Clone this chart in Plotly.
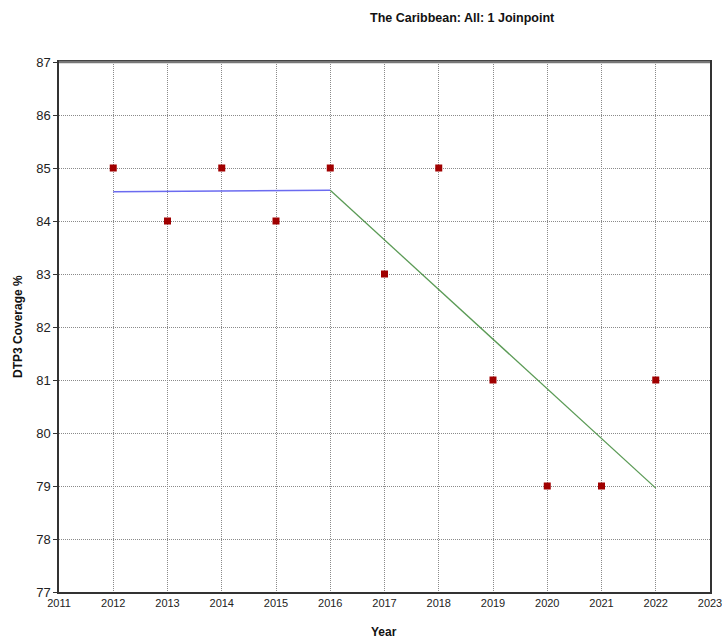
import plotly.graph_objects as go

# Observed DTP3 coverage by year
years = [2012, 2013, 2014, 2015, 2016, 2017, 2018, 2019, 2020, 2021, 2022]
coverage = [85, 84, 85, 84, 85, 83, 85, 81, 79, 79, 81]

# Joinpoint model: two segments joined at 2016
seg1_years = [2012, 2016]
seg1_fit = [84.55, 84.58]
seg2_years = [2016, 2022]
seg2_fit = [84.58, 78.96]

x_ticks = list(range(2011, 2024))
y_ticks = list(range(77, 88))

W, H = 722, 638
ML, MR, MT, MB = 59, 12, 62, 46
PW, PH = W - ML - MR, H - MT - MB


def px_x(px):
    return (px - ML) / PW


def px_y(py):
    return (H - MB - py) / PH


font_main = "Liberation Sans, Arial, sans-serif"

fig = go.Figure()
fig.add_trace(go.Scatter(x=seg1_years, y=seg1_fit, mode="lines",
                         line=dict(color="#6b6bf0", width=1.5), showlegend=False))
fig.add_trace(go.Scatter(x=seg2_years, y=seg2_fit, mode="lines",
                         line=dict(color="#5a9a55", width=1.3), showlegend=False))
fig.add_trace(go.Scatter(x=years, y=coverage, mode="markers",
                         marker=dict(symbol="square", size=7, color="#a00000",
                                     line=dict(width=0)),
                         showlegend=False))

fig.update_layout(
    width=W, height=H,
    margin=dict(l=ML, r=MR, t=MT, b=MB),
    paper_bgcolor="white", plot_bgcolor="white",
    font=dict(family=font_main, size=12, color="#222"),
    annotations=[
        dict(text="<b>The Caribbean: All: 1 Joinpoint</b>", x=px_x(462), y=px_y(18),
             xref="paper", yref="paper", showarrow=False,
             xanchor="center", yanchor="middle",
             font=dict(size=12.5, color="#111")),
        dict(text="<b>Year</b>", x=px_x(384), y=px_y(632),
             xref="paper", yref="paper", showarrow=False,
             xanchor="center", yanchor="middle",
             font=dict(size=12, color="#111")),
        dict(text="<b>DTP3 Coverage %</b>", x=px_x(18), y=px_y(327),
             xref="paper", yref="paper", showarrow=False, textangle=-90,
             xanchor="center", yanchor="middle",
             font=dict(size=12, color="#111")),
    ],
    shapes=[
        # heavier grey top edge of the plot frame
        dict(type="line", xref="paper", yref="paper", x0=0, x1=1, y0=1, y1=1,
             line=dict(color="#777", width=2.5)),
    ],
)

fig.update_xaxes(
    range=[2011, 2023], tickvals=x_ticks, ticktext=[str(v) for v in x_ticks],
    showgrid=True, gridcolor="#8a8a8a", griddash="1px,1px", gridwidth=1,
    showline=True, linecolor="#333", linewidth=1.5, mirror=True,
    ticks="", zeroline=False, automargin=False, ticklabeloverflow="allow",
    tickfont=dict(size=11, color="#222"),
)
fig.update_yaxes(
    range=[77, 87], tickvals=y_ticks, ticktext=[str(v) for v in y_ticks],
    showgrid=True, gridcolor="#8a8a8a", griddash="1px,1px", gridwidth=1,
    showline=True, linecolor="#333", linewidth=1.5, mirror=True,
    ticks="outside", ticklen=4, tickcolor="#333", zeroline=False, automargin=False,
    tickfont=dict(size=13, color="#222"),
)

fig.write_html("out.html")
